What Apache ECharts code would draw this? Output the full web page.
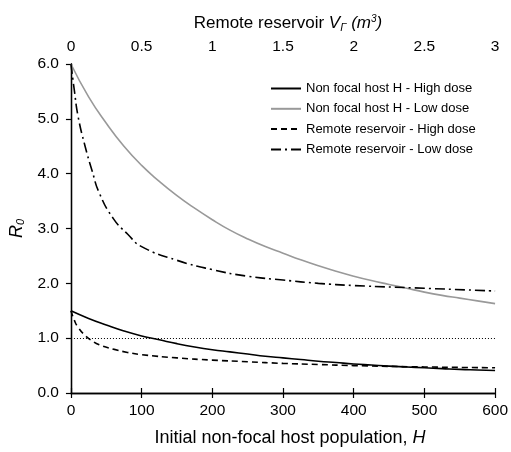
<!DOCTYPE html>
<html>
<head>
<meta charset="utf-8">
<script src="https://cdn.jsdelivr.net/npm/echarts@6/dist/echarts.min.js"></script>
<style>
  html, body { margin: 0; padding: 0; background: #fff; }
  #chart { width: 511px; height: 452px; }
</style>
</head>
<body>
<div id="chart"></div>
<script>
// Non-focal host population H (bottom axis)
const hostH = [0, 25, 50, 75, 100, 125, 150, 175, 200, 225, 250, 275, 300, 325, 350, 375, 400, 425, 450, 475, 500, 525, 550, 575, 600];
const hostHighDose = [1.50, 1.36, 1.24, 1.13, 1.04, 0.97, 0.90, 0.84, 0.79, 0.75, 0.71, 0.67, 0.64, 0.61, 0.58, 0.555, 0.53, 0.51, 0.49, 0.475, 0.46, 0.445, 0.43, 0.42, 0.41];
const hostLowDose  = [6.00, 5.40, 4.92, 4.50, 4.15, 3.86, 3.60, 3.37, 3.16, 2.97, 2.81, 2.67, 2.55, 2.43, 2.32, 2.22, 2.13, 2.05, 1.98, 1.91, 1.84, 1.78, 1.73, 1.68, 1.63];

// Remote reservoir volume V (top axis, m^3)
const reservoirV = [0, 0.025, 0.05, 0.1, 0.15, 0.2, 0.3, 0.4, 0.5, 0.75, 1.0, 1.25, 1.5, 1.75, 2.0, 2.5, 3.0];
const reservoirHighDose = [1.50, 1.32, 1.20, 1.05, 0.95, 0.88, 0.80, 0.74, 0.70, 0.64, 0.60, 0.57, 0.54, 0.52, 0.50, 0.475, 0.46];
const reservoirLowDose  = [6.00, 5.50, 5.05, 4.50, 4.05, 3.65, 3.18, 2.90, 2.67, 2.42, 2.25, 2.13, 2.06, 2.00, 1.96, 1.91, 1.86];

const bottomTicks = [0, 100, 200, 300, 400, 500, 600];
const topTicks = [0, 0.5, 1, 1.5, 2, 2.5, 3];
const yTicks = [0, 1, 2, 3, 4, 5, 6];
const thresholdR0 = 1.0;

const seriesNames = [
  'Non focal host H - High dose',
  'Non focal host H - Low dose',
  'Remote reservoir - High dose',
  'Remote reservoir - Low dose'
];

const FONT = 'Liberation Sans, Arial, Helvetica, sans-serif';
const pair = (xs, ys) => xs.map((x, i) => [x, ys[i]]);

const chart = echarts.init(document.getElementById('chart'), null, { renderer: 'canvas' });

const axisCommon = {
  axisLine: { show: true, lineStyle: { color: '#000', width: 1.3 } },
  axisTick: { show: true, length: 5, lineStyle: { color: '#000', width: 1.2 } },
  splitLine: { show: false },
  axisLabel: { color: '#000', fontSize: 15.5, fontFamily: FONT }
};

const curve = (name, xIdx, data, color, type) => ({
  name: name,
  type: 'line',
  xAxisIndex: xIdx,
  yAxisIndex: 0,
  data: data,
  smooth: 0.5,
  symbol: 'none',
  showSymbol: false,
  lineStyle: { color: color, width: 1.6, type: type },
  itemStyle: { color: color },
  z: 3
});

// Solid high-dose host curve also carries the R0 = 1 threshold line
const hostHigh = curve(seriesNames[0], 0, pair(hostH, hostHighDose), '#000', 'solid');
hostHigh.markLine = {
  silent: true,
  symbol: ['none', 'none'],
  label: { show: false },
  lineStyle: { color: '#000', width: 1, type: [1, 2] },
  data: [{ yAxis: thresholdR0 }]
};

chart.setOption({
  animation: false,
  backgroundColor: '#fff',
  grid: { left: 69, right: 13, top: 64, bottom: 56, containLabel: false },
  legend: {
    show: true,
    orient: 'vertical',
    left: 265,
    top: 77,
    itemWidth: 30,
    itemHeight: 14,
    itemGap: 7.3,
    itemStyle: { opacity: 0 },
    textStyle: { color: '#000', fontSize: 13, fontFamily: FONT },
    data: seriesNames
  },
  xAxis: [
    Object.assign({}, axisCommon, {
      type: 'value',
      position: 'bottom',
      min: bottomTicks[0],
      max: bottomTicks[bottomTicks.length - 1],
      interval: 100,
      axisLabel: Object.assign({}, axisCommon.axisLabel, { margin: 10 }),
      name: '{t|Initial non-focal host population, }{i|H}',
      nameLocation: 'middle',
      nameGap: 36,
      nameTextStyle: {
        rich: {
          t: { fontSize: 18, fontFamily: FONT, color: '#000', padding: [0, 0, 0, 14] },
          i: { fontSize: 18, fontFamily: FONT, color: '#000', fontStyle: 'italic' }
        }
      }
    }),
    Object.assign({}, axisCommon, {
      type: 'value',
      position: 'top',
      min: topTicks[0],
      max: topTicks[topTicks.length - 1],
      interval: 0.5,
      axisLabel: Object.assign({}, axisCommon.axisLabel, { margin: 9 }),
      name: '{t|Remote reservoir }{i|V}{sub|Γ}{i| (m}{sup|3}{i|)}',
      nameLocation: 'middle',
      nameGap: 31,
      nameTextStyle: {
        rich: {
          t: { fontSize: 17, fontFamily: FONT, color: '#000', padding: [0, 0, 0, 10] },
          i: { fontSize: 17, fontFamily: FONT, color: '#000', fontStyle: 'italic' },
          sub: { fontSize: 11, fontFamily: FONT, color: '#000', fontStyle: 'italic', padding: [8, 0, 0, 0] },
          sup: { fontSize: 10, fontFamily: FONT, color: '#000', fontStyle: 'italic', padding: [0, 0, 9, 0] }
        }
      }
    })
  ],
  yAxis: [
    Object.assign({}, axisCommon, {
      type: 'value',
      position: 'left',
      min: yTicks[0],
      max: yTicks[yTicks.length - 1],
      interval: 1,
      axisLabel: Object.assign({}, axisCommon.axisLabel, {
        margin: 12,
        formatter: v => v.toFixed(1)
      }),
      name: '{i|R}{sub|0}',
      nameLocation: 'middle',
      nameRotate: 90,
      nameGap: 42,
      nameTextStyle: {
        rich: {
          i: { fontSize: 18, fontFamily: FONT, color: '#000', fontStyle: 'italic' },
          sub: { fontSize: 11, fontFamily: FONT, color: '#000', fontStyle: 'italic', padding: [8, 0, 0, 0] }
        }
      }
    }),
    {
      type: 'value',
      position: 'right',
      min: yTicks[0],
      max: yTicks[yTicks.length - 1],
      axisLine: { show: true, lineStyle: { color: '#000', width: 1.3 } },
      axisTick: { show: false },
      axisLabel: { show: false },
      splitLine: { show: false }
    }
  ],
  series: [
    hostHigh,
    curve(seriesNames[1], 0, pair(hostH, hostLowDose), '#999', 'solid'),
    curve(seriesNames[2], 1, pair(reservoirV, reservoirHighDose), '#000', [6, 4]),
    curve(seriesNames[3], 1, pair(reservoirV, reservoirLowDose), '#000', [10, 4, 2, 4])
  ]
});
</script>
</body>
</html>
